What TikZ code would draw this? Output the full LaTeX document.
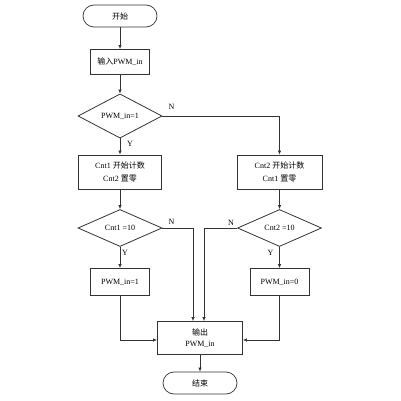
\documentclass[tikz,border=0pt]{standalone}
\usepackage{fontspec}
\setmainfont{Liberation Serif}
\newfontfamily\cjk{Noto Sans CJK SC}
\usetikzlibrary{shapes,arrows.meta}
\usetikzlibrary{positioning}
\tikzset{every node/.style={font=\fontsize{8}{13}\selectfont},
line/.style={draw=black!80, line width=0.7pt, -{Latex[length=4pt,width=3.5pt]}},
terminal/.style={draw=black!80, line width=0.7pt, rectangle, rounded corners=11pt, minimum width=74pt, minimum height=22pt},
process/.style={draw=black!80, line width=0.9pt, rectangle, align=center},
decision/.style={draw=black!80, line width=0.8pt, diamond, inner sep=0pt, minimum width=84pt, minimum height=37pt}
}

\begin{document}
\begin{tikzpicture}[x=1pt, y=1pt, on grid]
          \useasboundingbox (0,0) rectangle (401,-401);
          \node[terminal]                    (start) at (120,-16)      {\cjk 开始};
          \node[process, minimum width=59pt, minimum height=25pt] (input) [below =46pt of start] {{\cjk 输入}PWM\_in};
          \node[decision]                    (dec1)  [below =54pt of input] {PWM\_in=1};
          \node[process, minimum width=83pt, minimum height=34pt] (cnt1) [below =56pt of dec1] {Cnt1 {\cjk 开始计数}\\Cnt2 {\cjk 置零}};
          \node[process, minimum width=85pt, minimum height=34pt] (cnt2) [right =159.5pt of cnt1] {Cnt2 {\cjk 开始计数}\\Cnt1 {\cjk 置零}};
          \node[decision]                    (dec2)  [below =56pt of cnt1] {Cnt1 =10};
          \node[decision]                    (dec3)  [below =56pt of cnt2] {Cnt2 =10};
          \node[process, minimum width=59pt, minimum height=27pt] (set1) [below =54pt of dec2] {PWM\_in=1};
          \node[process, minimum width=59pt, minimum height=27pt] (set0) [below =54pt of dec3] {PWM\_in=0};
          \node[process, minimum width=85pt, minimum height=33pt] (out) at (200,-338) {{\cjk 输出}\\[-2pt]PWM\_in};
          \node[terminal]                    (end)   [below =45pt of out] {\cjk 结束};

          \path[line] (start) -- (input);
          \path[line] (input) -- (dec1);
          \path[line] (dec1) -- node [pos=0, xshift=10pt, yshift=-5pt] {Y} (cnt1);
          \path[line] (dec1.east) -| node [pos=0, xshift=9pt, yshift=9pt] {N} (cnt2);
          \path[line] (cnt1) -- (dec2);
          \path[line] (cnt2) -- (dec3);
          \path[line] (dec2) -- node [pos=0, xshift=5pt, yshift=-6pt] {Y} (set1);
          \path[line] (dec3) -- node [pos=0, xshift=-9pt, yshift=-6pt] {Y} (set0);
          \path[line] (dec2.east) -| node [pos=0, xshift=9pt, yshift=6pt] {N} ([xshift=-7pt]out.north);
          \path[line] (dec3.west) -| node [pos=0, xshift=-6pt, yshift=5pt] {N} ([xshift=4pt]out.north);
          \path[line] (set1) |- ([yshift=-2pt]out.west);
          \path[line] (set0) |- ([yshift=-2pt]out.east);
          \path[line] (out) -- (end);
        \end{tikzpicture}
\end{document}
